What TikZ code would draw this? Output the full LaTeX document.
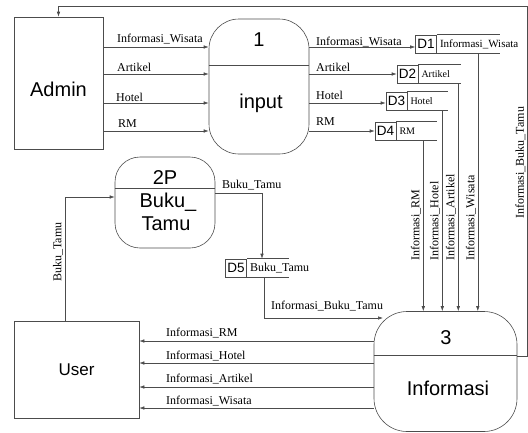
\documentclass[tikz,border=0pt]{standalone}
\usepackage{fontspec}
\setmainfont{Liberation Serif}
\newfontfamily\arialf{Liberation Sans}
\usetikzlibrary{arrows.meta}
\begin{document}
\begin{tikzpicture}[x=1pt,y=-1pt,
  line/.style={draw=black!70, line width=0.6pt},
  arr/.style={line, -{Latex[length=5pt,width=3.5pt]}},
  ent/.style={line, rectangle, inner sep=0pt},
  proc/.style={line, rectangle, inner sep=0pt},
  ptext/.style={font=\arialf\fontsize{20}{22}\selectfont, inner sep=0pt},
  lbl/.style={font=\fontsize{12}{14}\selectfont, inner sep=0pt, anchor=west},
  vlbl/.style={font=\fontsize{12}{14}\selectfont, inner sep=0pt, rotate=90, anchor=south west},
  sid/.style={line, rectangle, inner sep=0pt, minimum width=21pt, minimum height=18pt, font=\arialf\fontsize{13.5}{15}\selectfont},
  stxt/.style={inner sep=0pt, inner xsep=3pt, anchor=west},
]
\useasboundingbox (0,0) rectangle (528,432);

% external entities
\node[ent, minimum width=89pt, minimum height=132pt] (admin) at (58.5,83) {};
\node[ptext] (admintext) at (58.5,89) {Admin};
\node[ent, minimum width=125pt, minimum height=97pt] (user) at (76.5,369.5) {};
\node[font=\arialf\fontsize{17}{19}\selectfont, inner sep=0pt] (usertext) at (76.5,369.5) {User};

% processes
\node[proc, rounded corners=30pt, minimum width=100pt, minimum height=135pt] (p1) at (259,86.5) {};
\draw[line] (p1.west |- 0,65) -- (p1.east |- 0,65);
\node[ptext] (p1n) at (259,40) {1};
\node[ptext] (p1t) at (261,103) {input};

\node[proc, rounded corners=25pt, minimum width=100pt, minimum height=91pt] (p2) at (165,202.5) {};
\draw[line] (p2.west |- 0,188) -- (p2.east |- 0,188);
\node[ptext] (p2n) at (165,178) {2P};
\node[ptext] (p2a) at (168,202) {Buku\_};
\node[ptext] (p2b) at (166,224) {Tamu};

\node[proc, rounded corners=33pt, minimum width=143pt, minimum height=120pt] (p3) at (445.5,371.5) {};
\draw[line] (p3.west |- 0,355) -- (p3.east |- 0,355);
\node[ptext] (p3n) at (446,338) {3};
\node[ptext] (p3t) at (448,388) {Informasi};

% data stores
\node[sid] (d1) at (426,44) {D1};
\node[stxt, font=\fontsize{11}{13}\selectfont] (d1t) at (d1.east) {Informasi\_Wisata};
\draw[line] (d1.north east) -- ++(63,0) (d1.south east) -- ++(63,0);
\node[sid] (d2) at (407.5,74) {D2};
\node[stxt, font=\fontsize{10}{12}\selectfont] (d2t) at (d2.east) {Artikel};
\draw[line] (d2.north east) -- ++(43,0) (d2.south east) -- ++(43,0);
\node[sid] (d3) at (396.5,101) {D3};
\node[stxt, font=\fontsize{10}{12}\selectfont] (d3t) at (d3.east) {Hotel};
\draw[line] (d3.north east) -- ++(41,0) (d3.south east) -- ++(41,0);
\node[sid] (d4) at (385.5,131) {D4};
\node[stxt, font=\fontsize{10}{12}\selectfont] (d4t) at (d4.east) {RM};
\draw[line] (d4.north east) -- ++(41,0) (d4.south east) -- ++(41,0);
\node[sid] (d5) at (236,268) {D5};
\node[stxt, font=\fontsize{12}{14}\selectfont] (d5t) at (d5.east) {Buku\_Tamu};
\draw[line] (d5.north east) -- ++(42,0) (d5.south east) -- ++(42,0);

% Admin -> process 1
\draw[arr] (admin.east |- 0,47) -- (p1.west |- 0,47);
\draw[arr] (admin.east |- 0,74) -- (p1.west |- 0,74);
\draw[arr] (admin.east |- 0,103) -- (p1.west |- 0,103);
\draw[arr] (admin.east |- 0,131) -- (p1.west |- 0,131);
\node[lbl] (la1) at (117,39) {Informasi\_Wisata};
\node[lbl] (la2) at (117,67) {Artikel};
\node[lbl] (la3) at (116,97) {Hotel};
\node[lbl] (la4) at (118,124) {RM};

% process 1 -> stores
\draw[arr] (p1.east |- 0,47) -- (d1.west |- 0,47);
\draw[arr] (p1.east |- 0,74) -- (d2.west);
\draw[arr] (p1.east |- 0,103) -- (d3.west |- 0,103);
\draw[arr] (p1.east |- 0,131) -- (d4.west);
\node[lbl] (lb1) at (316,42) {Informasi\_Wisata};
\node[lbl] (lb2) at (316,67) {Artikel};
\node[lbl] (lb3) at (316,95) {Hotel};
\node[lbl] (lb4) at (316,122) {RM};

% stores -> process 3
\draw[arr] (d1.south east) ++(41,0) coordinate (v1) -- (v1 |- p3.north);
\draw[arr] (d2.south east) ++(40,0) coordinate (v2) -- (v2 |- p3.north);
\draw[arr] (d3.south east) ++(35,0) coordinate (v3) -- (v3 |- p3.north);
\draw[arr] (d4.south east) ++(27,0) coordinate (v4) -- (v4 |- p3.north);
\node[vlbl] (lv4) at (421,261) {Informasi\_RM};
\node[vlbl] (lv3) at (440,261) {Informasi\_Hotel};
\node[vlbl] (lv2) at (456,261) {Informasi\_Artikel};
\node[vlbl] (lv1) at (476,261) {Informasi\_Wisata};

% feedback loop process 3 -> Admin
\draw[arr] (p3.east |- 0,356) -| (527,6) -| (admin.north);
\node[vlbl] (lfb) at (525.5,219) {Informasi\_Buku\_Tamu};

% User -> process 2P
\draw[arr] (user.north -| 65,0) |- (p2.west |- 0,197);
\node[vlbl] (lu) at (63,282) {Buku\_Tamu};

% process 2P -> D5
\draw[arr] (p2.east |- 0,193) -| (d5.north -| 262,0);
\node[lbl] (lbt) at (222,185) {Buku\_Tamu};

% D5 -> process 3
\coordinate (p3in) at (383,318);
\draw[arr] (d5.south -| 264,0) |- (p3in);
\node[lbl] (libt) at (271,306) {Informasi\_Buku\_Tamu};

% process 3 -> User
\draw[arr] (p3.west |- 0,341) -- (user.east |- 0,341);
\draw[arr] (p3.west |- 0,363) -- (user.east |- 0,363);
\draw[arr] (p3.west |- 0,387) -- (user.east |- 0,387);
\draw[arr] (p3.west |- 0,408) -- (user.east |- 0,408);
\node[lbl] (lc1) at (166,333) {Informasi\_RM};
\node[lbl] (lc2) at (166,356) {Informasi\_Hotel};
\node[lbl] (lc3) at (166,379) {Informasi\_Artikel};
\node[lbl] (lc4) at (166,401) {Informasi\_Wisata};
\end{tikzpicture}
\end{document}
